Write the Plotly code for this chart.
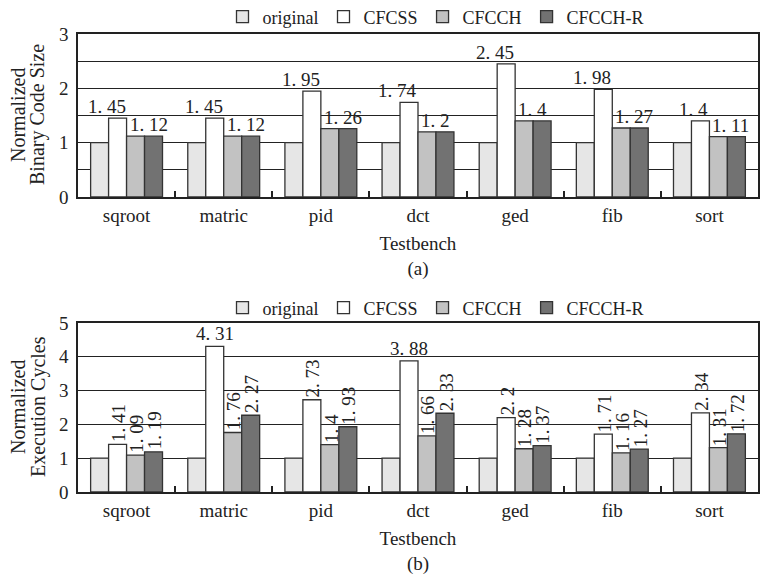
import plotly.graph_objects as go

categories = ["sqroot", "matric", "pid", "dct", "ged", "fib", "sort"]
series_names = ["original", "CFCSS", "CFCCH", "CFCCH-R"]

# (a) Normalized Binary Code Size
size_original = [1, 1, 1, 1, 1, 1, 1]
size_cfcss = [1.45, 1.45, 1.95, 1.74, 2.45, 1.98, 1.4]
size_cfcch = [1.12, 1.12, 1.26, 1.2, 1.4, 1.27, 1.11]
size_cfcch_r = [1.12, 1.12, 1.26, 1.2, 1.4, 1.27, 1.11]

# (b) Normalized Execution Cycles
cyc_original = [1, 1, 1, 1, 1, 1, 1]
cyc_cfcss = [1.41, 4.31, 2.73, 3.88, 2.2, 1.71, 2.34]
cyc_cfcch = [1.09, 1.76, 1.4, 1.66, 1.28, 1.16, 1.31]
cyc_cfcch_r = [1.19, 2.27, 1.93, 2.33, 1.37, 1.27, 1.72]

colors = ["#e6e6e6", "#ffffff", "#c2c2c2", "#727272"]
SERIF = "Liberation Serif, Times New Roman, serif"
INK = "#222222"
W, H = 771, 576
OFF = 8  # page body margin


def fmt(v):
    s = f"{v:g}"
    return s.replace(".", ". ")


def px_x(p):
    return (p - OFF) / W


def px_y(p):
    return 1 - (p - OFF) / H


fig = go.Figure()

top = [size_original, size_cfcss, size_cfcch, size_cfcch_r]
bot = [cyc_original, cyc_cfcss, cyc_cfcch, cyc_cfcch_r]

for name, vals, col in zip(series_names, top, colors):
    fig.add_trace(go.Bar(x=categories, y=vals, name=name,
                         marker=dict(color=col, line=dict(color="#333333", width=1.3)),
                         xaxis="x", yaxis="y", legend="legend"))
for name, vals, col in zip(series_names, bot, colors):
    fig.add_trace(go.Bar(x=categories, y=vals, name=name,
                         marker=dict(color=col, line=dict(color="#333333", width=1.3)),
                         xaxis="x2", yaxis="y2", legend="legend2"))

ann = []
lab_font = dict(family=SERIF, size=19, color=INK)
# top chart labels
for c, v in zip(categories, size_cfcss):
    ann.append(dict(x=c, y=v, xref="x", yref="y", text=fmt(v), showarrow=False, xanchor="right",
                    yanchor="bottom", xshift=1, yshift=-1, font=lab_font))
for c, v in zip(categories, size_cfcch):
    ann.append(dict(x=c, y=v, xref="x", yref="y", text=fmt(v), showarrow=False, xanchor="left",
                    yanchor="bottom", xshift=1, yshift=-1, font=lab_font))
# bottom chart labels
bar_off = [-27, -9, 9, 27]
for si in [1, 2, 3]:
    for c, v in zip(categories, bot[si]):
        horiz = si == 1 and v > 3.5
        ann.append(dict(x=c, y=v, xref="x2", yref="y2", text=fmt(v), showarrow=False, xanchor="center",
                        yanchor="bottom", xshift=bar_off[si] + (0 if horiz else 1), yshift=0,
                        textangle=0 if horiz else -90, font=lab_font))

# y-axis titles (two lines each, tighter spacing)
ytitle_font = dict(family=SERIF, size=20, color=INK)
for (l1, l2), yc in [(("Normalized", "Binary Code Size"), 115), (("Normalized", "Execution Cycles"), 407)]:
    ann.append(dict(x=px_x(18), y=px_y(yc), xref="paper", yref="paper", text=l1, showarrow=False,
                    textangle=-90, xanchor="center", yanchor="middle", font=ytitle_font))
    ann.append(dict(x=px_x(38), y=px_y(yc), xref="paper", yref="paper", text=l2, showarrow=False,
                    textangle=-90, xanchor="center", yanchor="middle", font=ytitle_font))

xdom = [px_x(78), px_x(758)]
axis_common = dict(showline=True, linecolor=INK, linewidth=1.5, mirror=True, automargin=False)
xax = dict(domain=xdom, ticks="inside", tickson="boundaries", ticklen=6, tickcolor=INK, tickwidth=1.5,
           tickfont=dict(family=SERIF, size=19, color=INK),
           title=dict(font=dict(family=SERIF, size=19, color=INK), standoff=12), **axis_common)
yfont = dict(family=SERIF, size=19, color=INK)
legfont = dict(family=SERIF, size=18, color=INK)

fig.update_layout(
    width=W, height=H, margin=dict(l=0, r=0, t=0, b=0, autoexpand=False),
    paper_bgcolor="white", plot_bgcolor="white",
    barmode="group", bargap=0.26, bargroupgap=0,
    xaxis=dict(anchor="y", title_text="Testbench<br>(a)", **xax),
    xaxis2=dict(anchor="y2", title_text="Testbench<br>(b)", **xax),
    yaxis=dict(domain=[px_y(197), px_y(34)], range=[0, 3], dtick=1, showgrid=True, gridcolor=INK,
               gridwidth=1.3, minor=dict(dtick=0.5, showgrid=True, gridcolor=INK, gridwidth=1.3),
               tickfont=yfont, ticklabelstandoff=4, zeroline=False, **axis_common),
    yaxis2=dict(domain=[px_y(492), px_y(323)], range=[0, 5], dtick=1, showgrid=True, gridcolor=INK,
                gridwidth=1.3, tickfont=yfont, ticklabelstandoff=4, zeroline=False, **axis_common),
    legend=dict(orientation="h", x=px_x(436), xanchor="center", y=px_y(17), yanchor="middle",
                font=legfont, traceorder="normal", bgcolor="rgba(0,0,0,0)", entrywidthmode="pixels"),
    legend2=dict(orientation="h", x=px_x(436), xanchor="center", y=px_y(308), yanchor="middle",
                 font=legfont, traceorder="normal", bgcolor="rgba(0,0,0,0)"),
    annotations=ann,
)

fig.write_html("out.html")
